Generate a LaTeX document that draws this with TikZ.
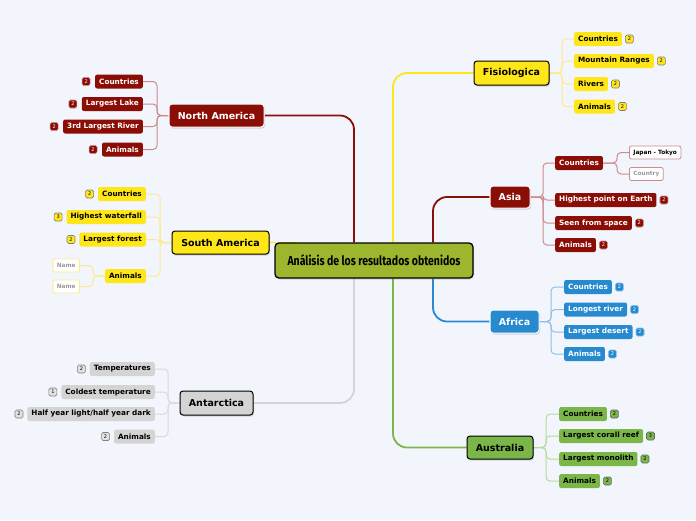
\documentclass[tikz,border=0pt]{standalone}
\usepackage{fontspec}
\setmainfont{DejaVu Sans}
\newfontfamily\rootfont{Fira Sans}
\usepackage{graphicx}
\usepackage{tikz}
\usetikzlibrary{positioning,shadows}
\pgfdeclarelayer{background}
\pgfsetlayers{background,main}

\definecolor{bgcol}{RGB}{243,245,253}
\definecolor{mmred}{RGB}{139,14,6}
\definecolor{mmredlink}{RGB}{205,140,140}
\definecolor{mmyellow}{RGB}{255,230,24}
\definecolor{mmyellowlink}{RGB}{252,235,140}
\definecolor{mmgray}{RGB}{212,212,212}
\definecolor{mmgraylink}{RGB}{218,218,224}
\definecolor{mmblue}{RGB}{40,138,206}
\definecolor{mmbluelink}{RGB}{140,192,232}
\definecolor{mmgreen}{RGB}{122,182,72}
\definecolor{mmgreenlink}{RGB}{185,218,150}
\definecolor{mmolive}{RGB}{156,183,46}

\begin{document}
\begin{tikzpicture}[x=1pt,y=-1pt,
    topic/.style={rounded corners=3pt,minimum height=23pt,inner xsep=8pt,inner ysep=0pt,
        font=\fontsize{9.5}{11}\selectfont\bfseries,
        drop shadow={opacity=0.3,shadow xshift=1pt,shadow yshift=-1.5pt}},
    darktopic/.style={topic,draw=white,line width=1pt,text=white},
    lighttopic/.style={topic,draw=black,line width=1pt},
    sub/.style={rounded corners=2pt,minimum height=14pt,inner xsep=4pt,inner ysep=0pt,
        font=\fontsize{7.3}{8}\selectfont\bfseries},
    badge/.style={rounded corners=1.5pt,minimum size=8pt,inner sep=0pt,line width=0.6pt,
        font=\fontsize{5}{5}\selectfont},
    leaf/.style={rounded corners=2pt,fill=white,line width=0.8pt,minimum height=13pt,
        inner xsep=4pt,inner ysep=0pt,font=\fontsize{5.8}{7}\selectfont\bfseries},
    trunk/.style={line width=1.8pt,rounded corners=14pt},
    link/.style={line width=1pt,rounded corners=4pt}]
    \useasboundingbox (0,0) rectangle (696,520);

    % central topic
    \node[lighttopic,fill=mmolive,rounded corners=4pt,minimum width=198pt,minimum height=35pt,line width=1.3pt]
        (root) at (374,260.5) {\resizebox{173pt}{\height}{\rootfont\fontsize{13}{15}\selectfont\bfseries Análisis de los resultados obtenidos}};

    % main topics
    \node[darktopic,fill=mmred,minimum width=95pt] (na) at (216.5,115.5) {North America};
    \node[lighttopic,fill=mmyellow,minimum width=97pt] (sa) at (220.5,242.5) {South America};
    \node[lighttopic,fill=mmgray,minimum width=73pt,minimum height=24pt] (ant) at (216.5,403) {Antarctica};
    \node[lighttopic,fill=mmyellow,minimum width=75pt,minimum height=24pt] (fis) at (511.5,73) {Fisiologica};
    \node[darktopic,fill=mmred,minimum width=40pt,minimum height=22pt] (asia) at (510,197) {Asia};
    \node[darktopic,fill=mmblue,minimum width=49pt] (afr) at (514.5,321.5) {Africa};
    \node[lighttopic,fill=mmgreen,minimum width=66pt] (aus) at (500,447.5) {Australia};

    % North America
    \foreach \y/\t [count=\i] in {81.5/Countries, 104/Largest Lake, 126.5/3rd Largest River, 149.5/Animals}{
        \node[sub,fill=mmred,text=white,anchor=east] (na\i) at (143,\y) {\t};
        \node[badge,fill=mmred,draw=mmredlink,text=white,left=4.5pt of na\i] (nab\i) {2};
    }

    % South America
    \foreach \y/\t/\b [count=\i] in {194/Countries/2, 217/Highest waterfall/3, 239.5/Largest forest/2}{
        \node[sub,fill=mmyellow,anchor=east] (sa\i) at (146,\y) {\t};
        \node[badge,fill=mmyellow,draw=gray,left=4pt of sa\i] (sab\i) {\b};
    }
    \node[sub,fill=mmyellow,anchor=east] (sa4) at (146,276) {Animals};
    \node[leaf,draw=mmyellowlink,text=gray!80,anchor=east] (sa4a) at (80,265.5) {Name};
    \node[leaf,draw=mmyellowlink,text=gray!80,anchor=east] (sa4b) at (80,286.5) {Name};

    % Antarctica
    \foreach \y/\t/\b [count=\i] in {369/Temperatures/2, 392/Coldest temperature/1,
            414/{Half year light/half year dark}/2, 436.5/Animals/2}{
        \node[sub,fill=mmgray,anchor=east] (ant\i) at (155,\y) {\t};
        \node[badge,fill=mmgray!70,draw=gray,left=4pt of ant\i] (antb\i) {\b};
    }

    % Fisiologica
    \foreach \y/\t [count=\i] in {39/Countries, 61/Mountain Ranges, 84/Rivers, 106.5/Animals}{
        \node[sub,fill=mmyellow,anchor=west] (fis\i) at (574,\y) {\t};
        \node[badge,fill=mmyellow,draw=gray,right=3pt of fis\i] (fisb\i) {2};
    }

    % Asia
    \node[sub,fill=mmred,text=white,anchor=west] (asia1) at (555,163) {Countries};
    \node[leaf,draw=mmredlink,anchor=west] (asia1a) at (629,152.5) {Japan - Tokyo};
    \node[leaf,draw=mmredlink,text=gray!80,anchor=west] (asia1b) at (629,174) {Country};
    \foreach \y/\t [count=\i from 2] in {200/Highest point on Earth, 223/Seen from space, 245/Animals}{
        \node[sub,fill=mmred,text=white,anchor=west] (asia\i) at (555,\y) {\t};
        \node[badge,fill=mmred,draw=mmredlink,text=white,right=3pt of asia\i] (asiab\i) {2};
    }

    % Africa
    \foreach \y/\t [count=\i] in {287/Countries, 309.5/Longest river, 332/Largest desert, 354/Animals}{
        \node[sub,fill=mmblue,text=white,anchor=west] (afr\i) at (564,\y) {\t};
        \node[badge,fill=mmblue,draw=mmbluelink,text=white,right=3pt of afr\i] (afrb\i) {2};
    }

    % Australia
    \foreach \y/\t/\b [count=\i] in {414/Countries/2, 436/Largest corall reef/3, 459/Largest monolith/2, 481/Animals/2}{
        \node[sub,fill=mmgreen,anchor=west] (aus\i) at (559,\y) {\t};
        \node[badge,fill=mmgreen,draw=black!60,right=3pt of aus\i] (ausb\i) {\b};
    }

    % bus points
    \coordinate (nabus) at (157,115.5);
    \coordinate (sabus) at (160,242.5);
    \coordinate (sa4bus) at (93,276);
    \coordinate (antbus) at (168,403);
    \coordinate (fisbus) at (562,73);
    \coordinate (asiabus) at (543,197);
    \coordinate (asia1bus) at (617,163);
    \coordinate (afrbus) at (551,321.5);
    \coordinate (ausbus) at (546,447.5);
    \coordinate (saend) at (297,242.5);

    \begin{pgfonlayer}{background}
    \fill[bgcol] (0,0) rectangle (696,520);
    % trunks
    \draw[trunk,mmred] (na.east) -| ([xshift=-20pt]root.north);
    \draw[trunk,mmyellow] (sa.east) -- (saend);
    \draw[trunk,mmgray] (ant.east) -| ([xshift=-20pt]root.south);
    \draw[trunk,mmyellow] (fis.west) -| ([xshift=19pt]root.north);
    \draw[trunk,mmred] (asia.west) -| ([xshift=59pt]root.north);
    \draw[trunk,mmblue] (afr.west) -| ([xshift=59pt]root.south);
    \draw[trunk,mmgreen] (aus.west) -| ([xshift=19pt]root.south);
    % branches
    \foreach \i in {1,...,4}{
        \draw[link,mmredlink] (na.west) -- (nabus) |- (na\i.east);
        \draw[link,mmyellowlink] (sa.west) -- (sabus) |- (sa\i.east);
        \draw[link,mmgraylink] (ant.west) -- (antbus) |- (ant\i.east);
        \draw[link,mmyellowlink] (fis.east) -- (fisbus) |- (fis\i.west);
        \draw[link,mmredlink] (asia.east) -- (asiabus) |- (asia\i.west);
        \draw[link,mmbluelink] (afr.east) -- (afrbus) |- (afr\i.west);
        \draw[link,mmgreenlink] (aus.east) -- (ausbus) |- (aus\i.west);
    }
    \draw[link,mmyellowlink] (sa4.west) -- (sa4bus) |- (sa4a.east);
    \draw[link,mmyellowlink] (sa4.west) -- (sa4bus) |- (sa4b.east);
    \draw[link,mmredlink] (asia1.east) -- (asia1bus) |- (asia1a.west);
    \draw[link,mmredlink] (asia1.east) -- (asia1bus) |- (asia1b.west);
    \end{pgfonlayer}
\end{tikzpicture}
\end{document}
